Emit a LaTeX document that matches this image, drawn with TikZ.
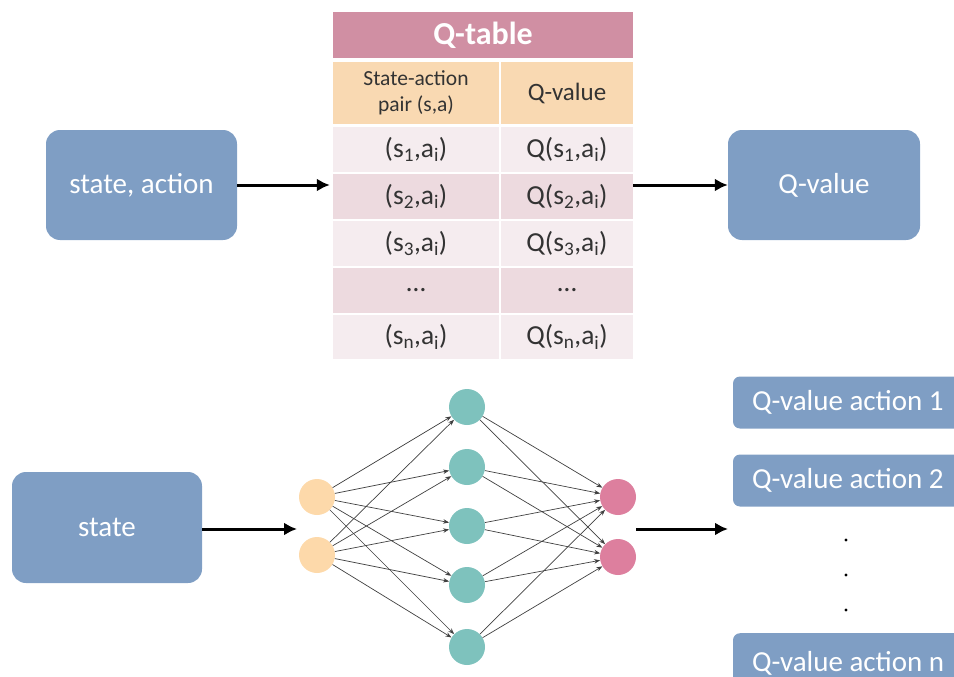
\documentclass[tikz,border=0pt]{standalone}
\usepackage{fontspec}
\setmainfont{Carlito}
\usetikzlibrary{arrows.meta}
\definecolor{boxblue}{HTML}{7F9EC4}
\definecolor{titlepink}{HTML}{D08FA3}
\definecolor{headorange}{HTML}{F9D9B2}
\definecolor{rowlight}{HTML}{F5ECEF}
\definecolor{rowdark}{HTML}{EDDADF}
\definecolor{inorange}{HTML}{FDD9AA}
\definecolor{hidteal}{HTML}{7EC2BD}
\definecolor{outpink}{HTML}{DD7F9E}
\definecolor{celltext}{HTML}{333333}
\tikzset{
  bluebox/.style={fill=boxblue, draw=none, rounded corners=14pt, text=white,
    font=\fontsize{29}{34}\selectfont, inner sep=0pt},
  cell/.style={draw=none, inner sep=0pt, text=celltext,
    font=\fontsize{27.5}{32}\selectfont},
  bigarrow/.style={line width=3pt, -{Latex[length=13pt,width=13pt]}},
  neuron/.style={circle, minimum size=36pt, inner sep=0pt, draw=none},
  synapse/.style={line width=0.7pt, draw=black!75, -{Stealth[length=6pt,width=4.5pt]}},
}
\newcommand{\qlabel}[1]{\makebox[194pt][l]{#1}}
\begin{document}
\begin{tikzpicture}[x=1pt,y=-1pt]
\useasboundingbox (0,0) rectangle (954,677);

% ---- Q-table ----
\node[fill=titlepink, minimum width=300pt, minimum height=46pt, inner sep=0pt,
  text=white, font=\fontsize{32}{36}\selectfont\bfseries] (title) at (483,35) {Q-table};
\node[cell, fill=headorange, minimum width=166pt, minimum height=62pt,
  font=\fontsize{21.5}{26}\selectfont, align=center] (h1) at (416,93) {State-action\\pair (s,a)};
\node[cell, fill=headorange, minimum width=132pt, minimum height=62pt,
  font=\fontsize{25}{30}\selectfont] (h2) at (567,93) {Q-value};

\node[cell, fill=rowlight, minimum width=166pt, minimum height=45pt] (r1a) at (416,149.5) {(s\textsubscript{1},a\textsubscript{i})};
\node[cell, fill=rowlight, minimum width=132pt, minimum height=45pt] (r1b) at (567,149.5) {Q(s\textsubscript{1},a\textsubscript{i})};
\node[cell, fill=rowdark, minimum width=166pt, minimum height=45pt] (r2a) at (416,196.5) {(s\textsubscript{2},a\textsubscript{i})};
\node[cell, fill=rowdark, minimum width=132pt, minimum height=45pt] (r2b) at (567,196.5) {Q(s\textsubscript{2},a\textsubscript{i})};
\node[cell, fill=rowlight, minimum width=166pt, minimum height=45pt] (r3a) at (416,243.5) {(s\textsubscript{3},a\textsubscript{i})};
\node[cell, fill=rowlight, minimum width=132pt, minimum height=45pt] (r3b) at (567,243.5) {Q(s\textsubscript{3},a\textsubscript{i})};
\node[cell, fill=rowdark, minimum width=166pt, minimum height=45pt] (r4a) at (416,290.5) {\dots};
\node[cell, fill=rowdark, minimum width=132pt, minimum height=45pt] (r4b) at (567,290.5) {\dots};
\node[cell, fill=rowlight, minimum width=166pt, minimum height=44pt] (r5a) at (416,337) {(s\textsubscript{n},a\textsubscript{i})};
\node[cell, fill=rowlight, minimum width=132pt, minimum height=44pt] (r5b) at (567,337) {Q(s\textsubscript{n},a\textsubscript{i})};

% ---- top row boxes ----
\node[bluebox, minimum width=191pt, minimum height=110pt] (sa) at (141.5,185) {state, action};
\node[bluebox, minimum width=192pt, minimum height=110pt] (qv) at (824,185) {Q-value};
\draw[bigarrow] (sa.east) -- ([xshift=-3pt]sa.east -| title.west);
\draw[bigarrow] (qv.west -| title.east) -- (qv.west);

% ---- bottom row ----
\node[bluebox, minimum width=190pt, minimum height=111pt] (st) at (107,527.5) {state};

% network layers
\node[neuron, fill=inorange] (i1) at (317,497) {};
\node[neuron, fill=inorange] (i2) at (317,555) {};
\node[neuron, fill=hidteal] (n1) at (467,407) {};
\node[neuron, fill=hidteal] (n2) at (467,467) {};
\node[neuron, fill=hidteal] (n3) at (467,526) {};
\node[neuron, fill=hidteal] (n4) at (467,585) {};
\node[neuron, fill=hidteal] (n5) at (467,647) {};
\node[neuron, fill=outpink] (o1) at (618,497) {};
\node[neuron, fill=outpink] (o2) at (618,557) {};
\foreach \i in {i1,i2}
  \foreach \h in {n1,n2,n3,n4,n5}
    \draw[synapse] (\i) -- (\h);
\foreach \h in {n1,n2,n3,n4,n5}
  \foreach \o in {o1,o2}
    \draw[synapse] (\h) -- (\o);

\coordinate (netin) at (297,529);
\coordinate (netout) at (636,529);
\coordinate (qin) at (728,529);
\draw[bigarrow] (st.east |- netin) -- (netin);
\draw[bigarrow] (netout) -- (qin);

% output Q-values (boxes run off the right edge, text set from the left)
\tikzset{qbox/.style={bluebox, rounded corners=7pt, minimum width=232pt, minimum height=52pt}}
\node[qbox] (q1) at (849,402.5) {\qlabel{Q-value action 1}};
\node[qbox] (q2) at (849,480.5) {\qlabel{Q-value action 2}};
\node[qbox, minimum height=60pt, anchor=north] (qn) at (849,633) {\qlabel{Q-value action n}};
\node[circle, fill=black, inner sep=1.2pt] (d1) at (846,540) {};
\node[circle, fill=black, inner sep=1.2pt] (d2) at (846,575) {};
\node[circle, fill=black, inner sep=1.2pt] (d3) at (846,610) {};
\end{tikzpicture}
\end{document}
